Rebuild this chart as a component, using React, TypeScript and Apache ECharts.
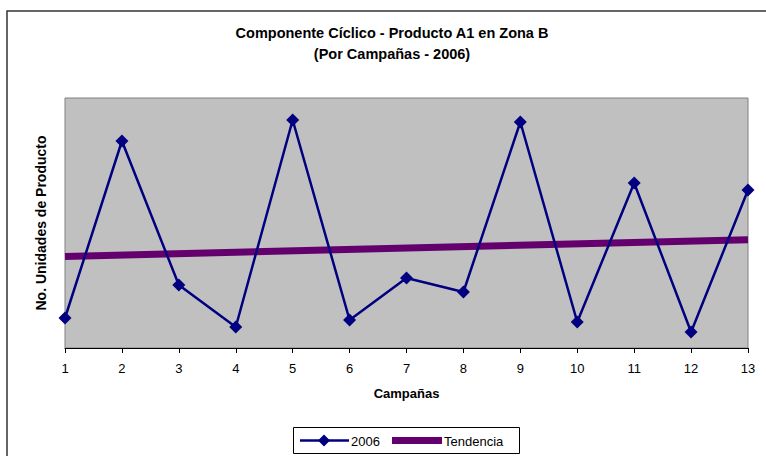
import React, { useEffect, useRef } from "react";
import * as echarts from "echarts";

const campaigns = [1, 2, 3, 4, 5, 6, 7, 8, 9, 10, 11, 12, 13];
const units2006 = [30, 207, 63, 21, 228, 28, 70, 56, 226, 26, 165, 16, 158];
const trendCampaigns = [1, 13];
const trendValues = [91.5, 108.3];

const FONT = "'Liberation Sans', Arial, sans-serif";

export default function App() {
  const ref = useRef<HTMLDivElement>(null);
  useEffect(() => {
    if (!ref.current) return;
    const chart = echarts.init(ref.current, undefined, { renderer: "svg" });
    chart.setOption({
      animation: false,
      backgroundColor: "#ffffff",
      textStyle: { fontFamily: FONT },
      grid: {
        left: 65,
        right: 18,
        top: 98,
        bottom: 108,
        show: true,
        backgroundColor: "#C0C0C0",
        borderColor: "#808080",
        borderWidth: 1,
      },
      xAxis: {
        type: "value",
        min: 1,
        max: 13,
        interval: 1,
        name: "Campañas",
        nameLocation: "middle",
        nameGap: 39,
        nameTextStyle: { fontFamily: FONT, fontWeight: "bold", fontSize: 13, color: "#000" },
        axisLine: { show: true, onZero: false, lineStyle: { color: "#000", width: 1 } },
        axisTick: { show: true, length: 5, lineStyle: { color: "#000" } },
        axisLabel: { fontFamily: FONT, fontSize: 13, color: "#000", margin: 14 },
        splitLine: { show: false },
      },
      yAxis: {
        type: "value",
        min: 0,
        max: 250,
        name: "No. Unidades de Producto",
        nameLocation: "middle",
        nameGap: 17,
        nameRotate: 90,
        nameTextStyle: { fontFamily: FONT, fontWeight: "bold", fontSize: 14, color: "#000" },
        axisLine: { show: false },
        axisTick: { show: false },
        axisLabel: { show: false },
        splitLine: { show: false },
      },
      series: [
        {
          name: "Tendencia",
          type: "line",
          data: trendCampaigns.map((c, i) => [c, trendValues[i]]),
          symbol: "none",
          lineStyle: { color: "#64006E", width: 7 },
          z: 2,
        },
        {
          name: "2006",
          type: "line",
          data: campaigns.map((c, i) => [c, units2006[i]]),
          symbol: "diamond",
          symbolSize: 13,
          itemStyle: { color: "#000080" },
          lineStyle: { color: "#000080", width: 2.5 },
          z: 3,
        },
      ],
      graphic: [
        {
          type: "rect",
          shape: { x: 7, y: 11, width: 800, height: 500 },
          style: { fill: "none", stroke: "#333", lineWidth: 1.5 },
          z: 10,
        },
        {
          type: "text",
          x: 392,
          y: 33,
          style: {
            text: "Componente Cíclico - Producto A1 en Zona B",
            fontFamily: FONT,
            fontWeight: "bold",
            fontSize: 14.5,
            fill: "#000",
            align: "center",
            verticalAlign: "middle",
          },
        },
        {
          type: "text",
          x: 392,
          y: 54,
          style: {
            text: "(Por Campañas - 2006)",
            fontFamily: FONT,
            fontWeight: "bold",
            fontSize: 14.5,
            fill: "#000",
            align: "center",
            verticalAlign: "middle",
          },
        },
        {
          type: "rect",
          shape: { x: 293.5, y: 427.5, width: 226, height: 26 },
          style: { fill: "#fff", stroke: "#000", lineWidth: 1 },
        },
        {
          type: "line",
          shape: { x1: 300, y1: 440.5, x2: 349, y2: 440.5 },
          style: { stroke: "#000080", lineWidth: 2.5 },
        },
        {
          type: "polygon",
          shape: { points: [[324, 434.5], [330, 440.5], [324, 446.5], [318, 440.5]] },
          style: { fill: "#000080" },
        },
        {
          type: "text",
          x: 351,
          y: 441,
          style: { text: "2006", fontFamily: FONT, fontSize: 13, fill: "#000", verticalAlign: "middle" },
        },
        {
          type: "rect",
          shape: { x: 392, y: 437, width: 50, height: 7 },
          style: { fill: "#64006E" },
        },
        {
          type: "text",
          x: 444,
          y: 441,
          style: { text: "Tendencia", fontFamily: FONT, fontSize: 13, fill: "#000", verticalAlign: "middle" },
        },
      ],
    });
    return () => chart.dispose();
  }, []);
  return (
    <div
      ref={ref}
      style={{ position: "fixed", left: 0, top: 0, width: 766, height: 456 }}
    />
  );
}
